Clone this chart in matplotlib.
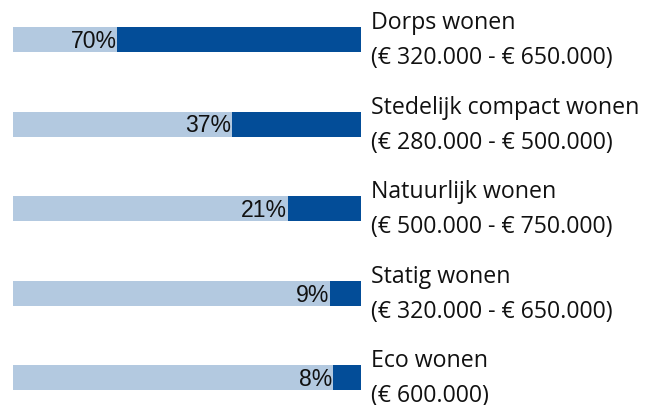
import matplotlib
matplotlib.use("Agg")
import matplotlib.pyplot as plt

categories = ["Dorps wonen", "Stedelijk compact wonen", "Natuurlijk wonen", "Statig wonen", "Eco wonen"]
price_ranges = ["(€ 320.000 - € 650.000)", "(€ 280.000 - € 500.000)", "(€ 500.000 - € 750.000)",
                "(€ 320.000 - € 650.000)", "(€ 600.000)"]
percentages = [70, 37, 21, 9, 8]

W, H = 654, 405
fig = plt.figure(figsize=(W / 100, H / 100), dpi=100)
x0, x1 = 13, 361
ax = fig.add_axes([x0 / W, 0, (x1 - x0) / W, 1])
step = 84.5
c0 = 39.5
ax.set_xlim(0, 100)
ax.set_ylim((H - c0) / step, (0 - c0) / step)
ax.axis("off")

light = "#B3C9E0"
dark = "#034D98"
bar_h = 25 / step
ys = list(range(len(categories)))

ax.barh(ys, [100] * len(ys), height=bar_h, color=light, left=0)
ax.barh(ys, percentages, height=bar_h, color=dark, left=[100 - p for p in percentages])

label_x = (371 - x0) / (x1 - x0) * 100
for y, p, cat, pr in zip(ys, percentages, categories, price_ranges):
    ax.text(100 - p - 0.2, y + 8.5 / step, f"{p}%", ha="right", va="baseline",
            fontsize=16.6, family="Liberation Sans", color="#111111")
    ax.text(label_x, y - 10.2 / step, cat, ha="left", va="baseline",
            fontsize=16.7, family="Open Sans", color="#111111", clip_on=False)
    ax.text(label_x, y + 24.8 / step, pr, ha="left", va="baseline",
            fontsize=16.7, family="Open Sans", color="#111111", clip_on=False)

fig.savefig("out.png", dpi=100)
